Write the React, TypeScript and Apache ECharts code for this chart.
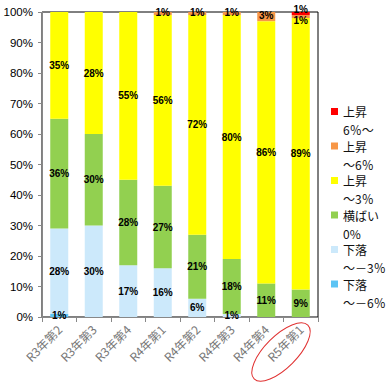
import React, { useEffect, useRef } from 'react';
import * as echarts from 'echarts';

const categories = ['R3年第2', 'R3年第3', 'R3年第4', 'R4年第1', 'R4年第2', 'R4年第3', 'R4年第4', 'R5年第1'];
const seriesNames = ['下落\n～－6％', '下落\n～－3％', '横ばい\n0%', '上昇\n～3％', '上昇\n～6％', '上昇\n6％～'];
const seriesColors = ['#5cc4f4', '#cce9fb', '#92d050', '#ffff00', '#f79646', '#ff0000'];

const down6 = [1, 0, 0, 0, 0, 0, 0, 0];
const down3 = [28, 30, 17, 16, 6, 1, 0, 0];
const flat = [36, 30, 28, 27, 21, 18, 11, 9];
const up3 = [35, 40, 55, 56, 72, 80, 86, 89];
const up3Labels = [35, 28, 55, 56, 72, 80, 86, 89];
const up6 = [0, 0, 0, 1, 1, 1, 3, 1];
const up6plus = [0, 0, 0, 0, 0, 0, 0, 1];

const valueSets = [down6, down3, flat, up3, up6, up6plus];
const labelSets = [down6, down3, flat, up3Labels, up6, up6plus];

export default function App() {
  const ref = useRef<HTMLDivElement>(null);
  useEffect(() => {
    document.body.style.margin = '0';
    if (!ref.current) return;
    const chart = echarts.init(ref.current, undefined, { renderer: 'svg' });
    const labelFont = "'Liberation Sans', Arial, sans-serif";
    const series = valueSets.map((vals, s) => {
      const baseOffset = s === 5 ? [0, -4] : s === 4 ? [0, -1.5] : [0, 0];
      return {
        name: seriesNames[s],
        type: 'bar',
        stack: 'total',
        barWidth: 18,
        itemStyle: { color: seriesColors[s] },
        label: {
          show: true,
          position: 'inside',
          color: '#000',
          fontSize: 10,
          fontWeight: 'bold',
          fontFamily: labelFont,
          offset: baseOffset,
          formatter: (p: any) => {
            const v = labelSets[s][p.dataIndex];
            return v ? v + '%' : '';
          },
        },
        data: vals.map((v, i) =>
          s === 4 && up6plus[i] > 0 ? { value: v, label: { offset: [0, 4] } } : v
        ),
      };
    });
    chart.setOption({
      animation: false,
      backgroundColor: '#fff',
      grid: {
        left: 42,
        top: 12,
        width: 276,
        height: 305,
        show: true,
        borderColor: '#000',
        borderWidth: 1,
        containLabel: false,
      },
      legend: {
        orient: 'vertical',
        left: 331,
        top: 84.5,
        padding: 0,
        itemWidth: 7,
        itemHeight: 7,
        itemGap: -19.5,
        icon: 'rect',
        data: [...seriesNames].reverse(),
        formatter: (name: string) => '\u00a0\n' + name,
        textStyle: {
          fontSize: 12,
          lineHeight: 18,
          color: '#111',
          fontFamily: "'Noto Sans CJK JP', sans-serif",
        },
      },
      xAxis: {
        type: 'category',
        data: categories,
        axisLine: { lineStyle: { color: '#888' } },
        axisTick: { show: true, length: 5, lineStyle: { color: '#888' } },
        axisLabel: {
          rotate: 45,
          interval: 0,
          margin: 10,
          color: '#777',
          fontSize: 12,
          fontFamily: "'Noto Sans CJK JP', sans-serif",
        },
      },
      yAxis: {
        type: 'value',
        min: 0,
        max: 100,
        interval: 10,
        axisLine: { show: true, lineStyle: { color: '#888' } },
        axisTick: { show: true, length: 4, lineStyle: { color: '#888' } },
        splitLine: { show: false },
        axisLabel: {
          formatter: '{value}%',
          margin: 9,
          color: '#000',
          fontSize: 11.5,
          fontFamily: "'Liberation Sans Narrow', 'Liberation Sans', sans-serif",
        },
      },
      graphic: [
        {
          type: 'ellipse',
          x: 281,
          y: 352,
          rotation: Math.PI / 4,
          shape: { cx: 0, cy: 0, rx: 38, ry: 16 },
          style: { fill: 'none', stroke: '#e03030', lineWidth: 1 },
          silent: true,
          z: 100,
        },
      ],
      series,
    });
    return () => chart.dispose();
  }, []);
  return <div ref={ref} style={{ width: 392, height: 387, position: 'absolute', left: 0, top: 0 }} />;
}
